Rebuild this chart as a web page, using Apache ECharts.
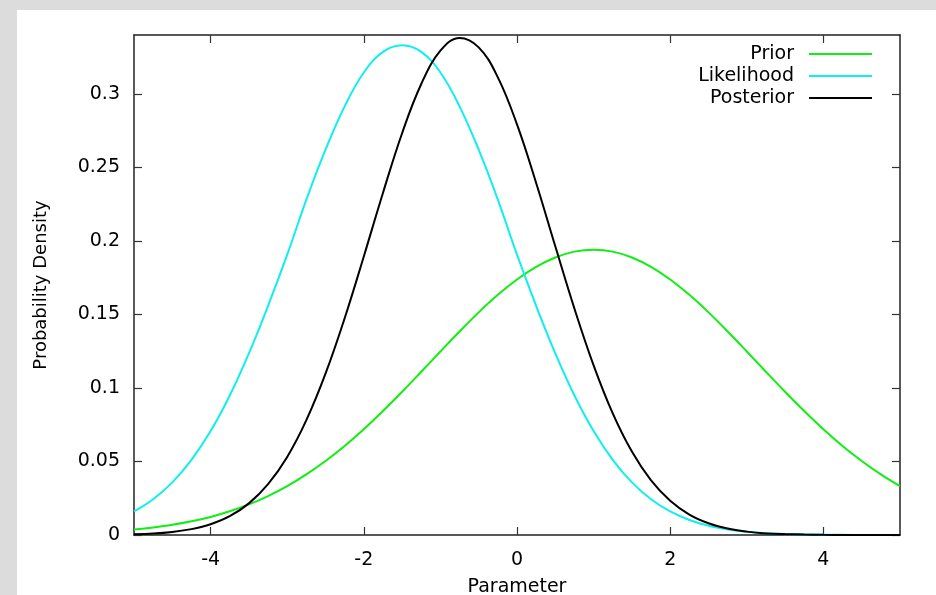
<!DOCTYPE html>
<html>
<head>
<meta charset="utf-8">
<script src="https://cdn.jsdelivr.net/npm/echarts@6/dist/echarts.min.js"></script>
<style>
html,body{margin:0;padding:0;background:#dcdcdc;width:936px;height:595px;overflow:hidden;}
#chart{position:absolute;left:17px;top:10px;width:919px;height:585px;background:#ffffff;}
</style>
</head>
<body>
<div id="chart"></div>
<script>
const xs = [-5,-4.75,-4.5,-4.25,-4,-3.75,-3.5,-3.25,-3,-2.75,-2.5,-2.25,-2,-1.75,-1.5,-1.25,-1,-0.75,-0.5,-0.25,0,0.25,0.5,0.75,1,1.25,1.5,1.75,2,2.25,2.5,2.75,3,3.25,3.5,3.75,4,4.25,4.5,4.75,5];
const prior = [0.0037,0.0051,0.0069,0.0093,0.0123,0.0161,0.0208,0.0265,0.0332,0.0412,0.0503,0.0605,0.0719,0.0843,0.0974,0.1110,0.1248,0.1384,0.1514,0.1633,0.1737,0.1823,0.1887,0.1927,0.1940,0.1927,0.1887,0.1823,0.1737,0.1633,0.1514,0.1384,0.1248,0.1110,0.0974,0.0843,0.0719,0.0605,0.0503,0.0412,0.0332];
const likelihood = [0.0160,0.0243,0.0358,0.0511,0.0707,0.0949,0.1235,0.1558,0.1906,0.2280,0.2620,0.2915,0.3145,0.3285,0.3330,0.3285,0.3145,0.2915,0.2620,0.2280,0.1906,0.1558,0.1235,0.0949,0.0707,0.0511,0.0358,0.0243,0.0160,0.0102,0.0063,0.0038,0.0022,0.0012,0.0007,0.0004,0.0002,0.0001,0.00004,0.00002,0.00001];
const posterior = [0.0005,0.0010,0.0021,0.0040,0.0073,0.0128,0.0215,0.0346,0.0531,0.0781,0.1097,0.1474,0.1894,0.2326,0.2732,0.3067,0.3293,0.3380,0.3316,0.3112,0.2792,0.2394,0.1963,0.1539,0.1154,0.0827,0.0567,0.0371,0.0233,0.0139,0.0080,0.0044,0.0023,0.0011,0.0006,0.0003,0.0001,0.00005,0.00002,0.00001,0];
const xTicks = [-4,-2,0,2,4];
const yTicks = [0,0.05,0.1,0.15,0.2,0.25,0.3];
const seriesNames = ['Prior','Likelihood','Posterior'];
const seriesColors = ['#11ee11','#11eeee','#000000'];

const pairs = arr => xs.map((x,i)=>[x,arr[i]]);
const font = 'DejaVu Sans, Liberation Sans, sans-serif';
const axisLine = {show:true, onZero:false, lineStyle:{color:'#222', width:1.5}};
const tick = vals => ({show:true, inside:true, length:8, customValues:vals, lineStyle:{color:'#333', width:1.2}});

const chart = echarts.init(document.getElementById('chart'), null, {renderer:'canvas'});
chart.setOption({
  animation:false,
  textStyle:{fontFamily:font},
  grid:{left:117, right:36, top:25, bottom:60, containLabel:false, outerBoundsMode:'none'},
  legend:{
    orient:'vertical', right:64, top:33, padding:0, itemGap:0,
    itemWidth:63, itemHeight:2, icon:'rect', align:'right',
    data:seriesNames,
    textStyle:{fontFamily:font, fontSize:19, color:'#000', width:150, align:'right', lineHeight:22, padding:[0,10,0,0]}
  },
  xAxis:[{
    type:'value', min:-5, max:5, position:'bottom',
    name:'Parameter', nameLocation:'middle', nameGap:43,
    nameTextStyle:{fontFamily:font, fontSize:19, color:'#000'},
    axisLine:axisLine, axisTick:tick(xTicks), splitLine:{show:false},
    axisLabel:{customValues:xTicks, fontFamily:font, fontSize:19, color:'#000', margin:16}
  },{
    type:'value', min:-5, max:5, position:'top',
    axisLine:axisLine, axisTick:tick(xTicks), splitLine:{show:false},
    axisLabel:{show:false}
  }],
  yAxis:[{
    type:'value', min:0, max:0.34, position:'left',
    name:'Probability Density', nameLocation:'middle', nameGap:84,
    nameTextStyle:{fontFamily:font, fontSize:18, color:'#000'},
    axisLine:axisLine, axisTick:tick(yTicks), splitLine:{show:false},
    axisLabel:{customValues:yTicks, fontFamily:font, fontSize:19, color:'#000', margin:14}
  },{
    type:'value', min:0, max:0.34, position:'right',
    axisLine:axisLine, axisTick:tick(yTicks), splitLine:{show:false},
    axisLabel:{show:false}
  }],
  series:[prior, likelihood, posterior].map((arr,i)=>({
    name:seriesNames[i], type:'line', data:pairs(arr),
    xAxisIndex:0, yAxisIndex:0,
    showSymbol:false, smooth:0.4,
    itemStyle:{color:seriesColors[i]},
    lineStyle:{color:seriesColors[i], width:2}
  }))
});
</script>
</body>
</html>
